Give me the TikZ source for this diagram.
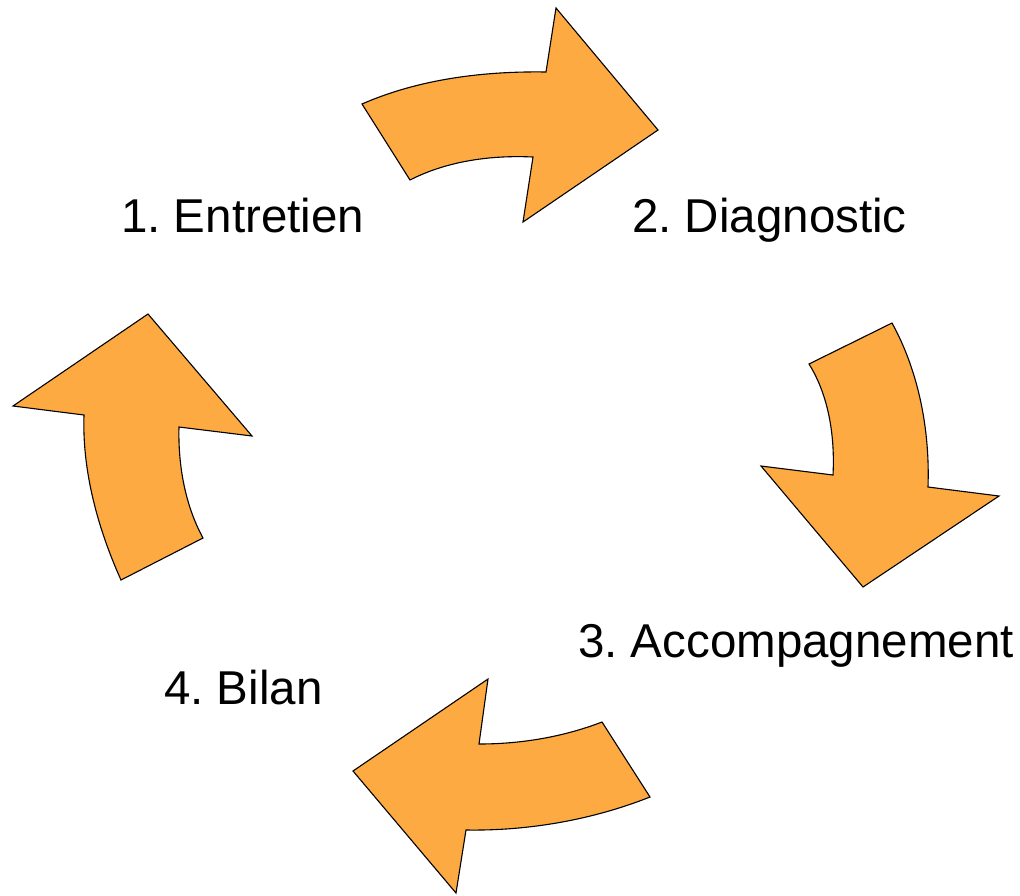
\documentclass[tikz,border=0pt]{standalone}
\usepackage{fontspec}
\setmainfont{Liberation Sans}
\usepackage{tikz}
\usetikzlibrary{positioning}
\definecolor{cycleorange}{RGB}{253,170,66}

\begin{document}
\frenchspacing
\begin{tikzpicture}[x=1pt,y=-1pt,
    cyclearrow/.style={fill=cycleorange,draw=black,line width=1.1pt,line join=miter},
    steplabel/.style={anchor=base west,inner sep=0pt,font=\fontsize{47.5}{57}\selectfont}]
    \useasboundingbox (0,0) rectangle (1020,895);

    % Etapes du cycle
    \node[steplabel] (entretien) at (121,232) {1. Entretien};
    \node[steplabel] (diagnostic) at (632,232) {2. Diagnostic};
    \node[steplabel] (accomp) at (578,657) {3. Accompagnement};
    \node[steplabel] (bilan) at (164,704) {4. Bilan};

    % Fleche 1 -> 2
    \draw[cyclearrow] (362,104) .. controls (419,79) and (484,71) .. (546,72)
        -- (556,8) -- (658,130) -- (523,222) -- (533,157)
        .. controls (491,155) and (447,161) .. (410,180) -- cycle;

    % Fleche 2 -> 3
    \draw[cyclearrow] (892,323) -- (809,364)
        .. controls (829,396) and (835,437) .. (833,475)
        -- (761,466) -- (863,587) -- (999,496) -- (928,487)
        .. controls (930,431) and (919,372) .. cycle;

    % Fleche 3 -> 4
    \draw[cyclearrow] (650,797) -- (602,722)
        .. controls (563,737) and (521,744) .. (479,744)
        -- (488,679) -- (353,771) -- (456,893) -- (466,830)
        .. controls (528,831) and (592,820) .. cycle;

    % Fleche 4 -> 1
    \draw[cyclearrow] (121,580) -- (203,538)
        .. controls (185,505) and (178,465) .. (179,427)
        -- (252,436) -- (148,314) -- (13,406) -- (84,415)
        .. controls (82,471) and (98,529) .. cycle;
\end{tikzpicture}
\end{document}
